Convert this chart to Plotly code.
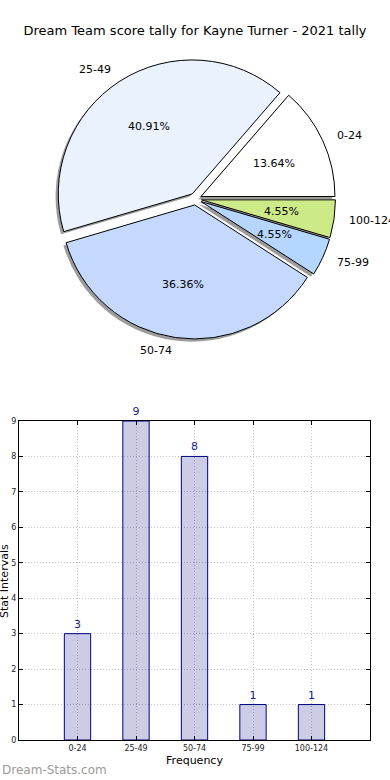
import numpy as np
import plotly.graph_objects as go

# ---- data ----
title_text = "Dream Team score tally for Kayne Turner - 2021 tally"
categories = ["0-24", "25-49", "50-74", "75-99", "100-124"]
counts = [3, 9, 8, 1, 1]
pie_colors = ["#ffffff", "#eaf2fe", "#c5d9fe", "#b5d6fe", "#cdea88"]
x_title = "Frequency"
y_title = "Stat Intervals"
watermark = "Dream-Stats.com"

FONT = "DejaVu Sans"
W, H = 390, 780


def px(x):
    return x / W


def py(y):
    return 1 - y / H


# ---- layout geometry (page pixels) ----
explode = 0.045
pie_cx, pie_cy, pie_box = 195.5, 199.0, 280.0
half = 1 + explode
unit = pie_box / 2 / half  # pixels per pie radius
pie_dx = [px(pie_cx - pie_box / 2), px(pie_cx + pie_box / 2)]
pie_dy = [py(pie_cy + pie_box / 2), py(pie_cy - pie_box / 2)]

sh = 2.7  # shadow offset px
shadow_dx = [pie_dx[0] - sh / W, pie_dx[1] - sh / W]
shadow_dy = [pie_dy[0] - sh / H, pie_dy[1] - sh / H]

vals = np.array(counts, dtype=float)
frac = vals / vals.sum()
# plotly counterclockwise: first slice ends at `rotation`; start it at 3 o'clock
rot = 90 - 360 * frac[0]

fig = go.Figure()

# shadow pie
fig.add_trace(go.Pie(
    labels=categories, values=counts, sort=False, direction="counterclockwise",
    rotation=rot, pull=explode, domain=dict(x=shadow_dx, y=shadow_dy),
    marker=dict(colors=["#9c9c9c"] * len(counts), line=dict(width=0)),
    textinfo="none", hoverinfo="skip", showlegend=False,
))
# main pie
fig.add_trace(go.Pie(
    labels=categories, values=counts, sort=False, direction="counterclockwise",
    rotation=rot, pull=explode, domain=dict(x=pie_dx, y=pie_dy),
    marker=dict(colors=pie_colors, line=dict(color="black", width=1)),
    textinfo="none", hoverinfo="skip", showlegend=False,
))

# pie text (matplotlib-style: pct at 0.6 r, label at 1.1 r, from the exploded centre)
cum = np.concatenate([[0], np.cumsum(frac)])
mid = (cum[:-1] + cum[1:]) / 2 * 2 * np.pi
cx = explode * np.cos(mid)
cy = explode * np.sin(mid)
pct_txt = [f"{p*100:.2f}%" for p in frac]
annotations = []
for i in range(len(counts)):
    annotations.append(dict(
        text=pct_txt[i], xref="x2", yref="y2",
        x=float(cx[i] + 0.6 * np.cos(mid[i])), y=float(cy[i] + 0.6 * np.sin(mid[i])),
        xanchor="center", yanchor="middle", showarrow=False,
        font=dict(family=FONT, size=11, color="black")))
    lx = float(cx[i] + 1.1 * np.cos(mid[i]))
    ly = float(cy[i] + 1.1 * np.sin(mid[i]))
    annotations.append(dict(
        text=categories[i], xref="x2", yref="y2", x=lx, y=ly,
        xanchor="left" if lx > 0 else "right", yanchor="middle", showarrow=False,
        font=dict(family=FONT, size=11, color="black")))

# bar chart
fig.add_trace(go.Bar(
    x=categories, y=counts, width=0.45,
    marker=dict(color="rgba(0,0,128,0.2)", line=dict(color="#000080", width=1)),
    text=[str(c) for c in counts], textposition="outside",
    textfont=dict(family=FONT, size=11, color="#1a1a8c"),
    cliponaxis=False, hoverinfo="skip", showlegend=False,
))

bar_dx = [px(19), px(370)]
bar_dy = [py(740), py(421)]

axis_common = dict(
    showline=True, linecolor="black", linewidth=1, mirror="allticks",
    ticks="inside", ticklen=4, tickcolor="black",
    showgrid=True, gridcolor="#c4c4c4", griddash="1px,2px", gridwidth=1,
    zeroline=False, tickfont=dict(family=FONT, size=8, color="#222222"),
    automargin=False,
)

annotations.append(dict(text=y_title, xref="paper", yref="paper", x=px(4), y=py(581),
                        xanchor="center", yanchor="middle", textangle=-90, showarrow=False,
                        font=dict(family=FONT, size=11, color="black")))
annotations.append(dict(text=watermark, xref="paper", yref="paper", x=px(0), y=py(770),
                        xanchor="left", yanchor="middle", showarrow=False,
                        font=dict(family=FONT, size=12, color="#9a9a9a")))

fig.update_layout(
    width=W, height=H, autosize=False,
    margin=dict(l=0, r=0, t=0, b=0),
    paper_bgcolor="white", plot_bgcolor="white",
    font=dict(family=FONT, color="black"),
    title=dict(text=title_text, x=px(195), xanchor="center", y=py(30),
               yanchor="middle", font=dict(family=FONT, size=13, color="black")),
    xaxis=dict(domain=bar_dx, range=[-1, 5], type="category",
               title=dict(text=x_title, font=dict(family=FONT, size=11), standoff=4),
               **axis_common),
    yaxis=dict(domain=bar_dy, range=[0, 9], dtick=1, **axis_common),
    xaxis2=dict(domain=[0, 1], range=[(0 - pie_cx) / unit, (W - pie_cx) / unit],
                visible=False, anchor="y2"),
    yaxis2=dict(domain=[py(400), py(40)], range=[(pie_cy - 400) / unit, (pie_cy - 40) / unit],
                visible=False, anchor="x2"),
    annotations=annotations,
)

fig.write_html("out.html", config={"displayModeBar": False},
               post_script="document.body.style.margin='0';")
